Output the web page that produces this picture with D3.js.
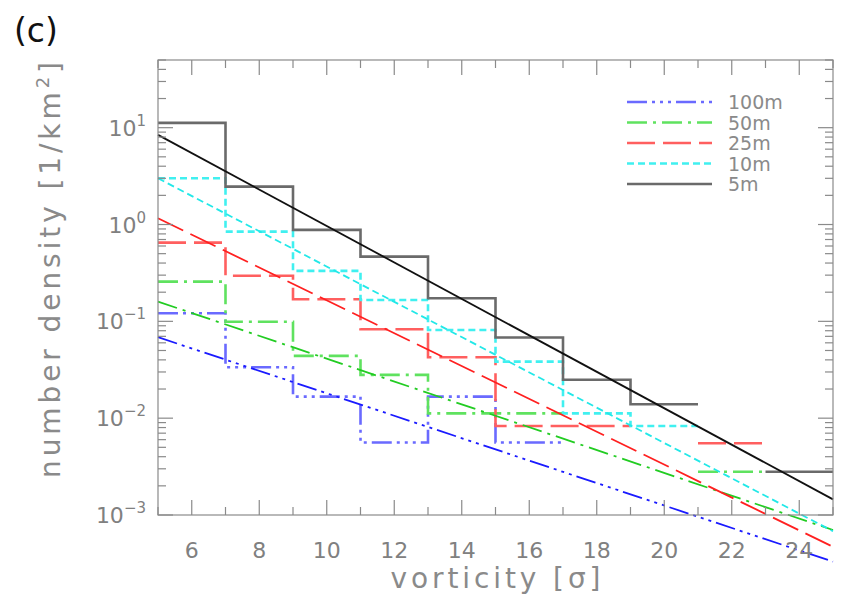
<!DOCTYPE html>
<html>
<head>
<meta charset="utf-8">
<script src="https://cdn.jsdelivr.net/npm/d3@7"></script>
<style>
  body { margin: 0; background: #fff; }
  text { font-family: "DejaVu Sans", sans-serif; }
</style>
</head>
<body>
<div id="chart"></div>
<script>
const width = 850;
const height = 602;
const margin = { top: 60, right: 17, bottom: 87, left: 158 };

// bins of 2 sigma, starting edges
const binStart = [5, 7, 9, 11, 13, 15, 17, 19, 21, 23];
const binWidth = 2;

const seriesNames = ["100m", "50m", "25m", "10m", "5m"];
const hist100m = [0.121, 0.0336, 0.0167, 0.0056, 0.0167, 0.0056, null, null, null, null];
const hist50m  = [0.257, 0.099, 0.044, 0.028, 0.0112, 0.0112, null, null, 0.0028, null];
const hist25m  = [0.65, 0.296, 0.169, 0.083, 0.0426, 0.0083, 0.0083, null, 0.0055, null];
const hist10m  = [3.0, 0.845, 0.332, 0.166, 0.0815, 0.0384, 0.0112, 0.0083, null, null];
const hist5m   = [11.2, 2.46, 0.88, 0.466, 0.173, 0.068, 0.0249, 0.0139, null, 0.0028];

// fitted exponential lines, values at x = 5 and x = 25
const fitX = [5, 25];
const fit100m = [0.0686, 0.00033];
const fit50m  = [0.16, 0.0007];
const fit25m  = [1.16, 0.00047];
const fit10m  = [3.0, 0.00068];
const fit5m   = [8.43, 0.00145];

const xTicks = [6, 8, 10, 12, 14, 16, 18, 20, 22, 24];
const xMinor = [5, 7, 9, 11, 13, 15, 17, 19, 21, 23, 25];
const yDecades = [-3, -2, -1, 0, 1];

const hists = [hist100m, hist50m, hist25m, hist10m, hist5m];
const fits = [fit100m, fit50m, fit25m, fit10m, fit5m];
const histColor = ["#6a6aff", "#5fe25f", "#ff5f5f", "#40f0f0", "#6a6a6a"];
const fitColor = ["#1a1aff", "#22cc22", "#ff2020", "#22e8e8", "#111"];
const dashes = ["20,5,3,5,3,5,3,5", "20,6,3,6", "28,8", "7,4", null];

const svg = d3.select("#chart")
  .append("svg")
  .attr("width", width)
  .attr("height", height);

const x = d3.scaleLinear().domain([5, 25]).range([margin.left, width - margin.right]);
const y = d3.scaleLog().domain([1e-3, 50]).range([height - margin.bottom, margin.top]);

const x0 = x.range()[0], x1 = x.range()[1];
const y0 = y.range()[0], y1 = y.range()[1];
const axisGray = "#8a8a8a";

// histograms
const line = d3.line()
  .defined(d => d.v != null)
  .x(d => x(d.x))
  .y(d => y(d.v));

hists.forEach((h, k) => {
  const pts = [];
  h.forEach((v, i) => {
    pts.push({ x: binStart[i], v: v });
    pts.push({ x: binStart[i] + binWidth, v: v });
  });
  svg.append("path")
    .attr("d", line(pts))
    .attr("fill", "none")
    .attr("stroke", histColor[k])
    .attr("stroke-width", 2.6)
    .attr("stroke-dasharray", dashes[k]);
});

// fitted lines (not clipped, like the original)
fits.forEach((f, k) => {
  svg.append("path")
    .attr("d", line(fitX.map((xv, i) => ({ x: xv, v: f[i] }))))
    .attr("fill", "none")
    .attr("stroke", fitColor[k])
    .attr("stroke-width", 1.8)
    .attr("stroke-dasharray", dashes[k]);
});

// frame
svg.append("rect")
  .attr("x", x0).attr("y", y1)
  .attr("width", x1 - x0).attr("height", y0 - y1)
  .attr("fill", "none")
  .attr("stroke", axisGray)
  .attr("stroke-width", 1.2);

const ticks = svg.append("g").attr("stroke", axisGray).attr("stroke-width", 1.2);

// x ticks, top and bottom
xMinor.concat(xTicks).forEach(t => {
  const len = xTicks.includes(t) ? 15 : 8;
  ticks.append("line").attr("x1", x(t)).attr("x2", x(t)).attr("y1", y0).attr("y2", y0 - len);
  ticks.append("line").attr("x1", x(t)).attr("x2", x(t)).attr("y1", y1).attr("y2", y1 + len);
});

// y ticks, left and right
yDecades.forEach(e => {
  for (let m = 1; m <= 9; m++) {
    const v = m * Math.pow(10, e);
    if (v < 1e-3 || v > 50) continue;
    const len = m === 1 ? 15 : 8;
    ticks.append("line").attr("x1", x0).attr("x2", x0 + len).attr("y1", y(v)).attr("y2", y(v));
    ticks.append("line").attr("x1", x1).attr("x2", x1 - len).attr("y1", y(v)).attr("y2", y(v));
  }
});

// x tick labels
svg.append("g").selectAll("text")
  .data(xTicks)
  .enter().append("text")
  .attr("x", d => x(d))
  .attr("y", 558)
  .attr("text-anchor", "middle")
  .attr("font-size", 22)
  .attr("fill", "#808080")
  .text(d => d);

// y tick labels with superscripts
const yl = svg.append("g").selectAll("text")
  .data(yDecades)
  .enter().append("text")
  .attr("x", 146)
  .attr("y", d => y(Math.pow(10, d)) + 8)
  .attr("text-anchor", "end")
  .attr("font-size", 22)
  .attr("fill", "#808080");
yl.append("tspan").text("10");
yl.append("tspan")
  .attr("font-size", 15)
  .attr("dy", -10)
  .text(d => d < 0 ? "\u2212" + (-d) : d);

// axis titles
svg.append("text")
  .attr("x", x(15))
  .attr("y", 588)
  .attr("text-anchor", "middle")
  .attr("font-size", 28)
  .attr("fill", "#8a8a8a")
  .attr("textLength", 210)
  .text("vorticity [\u03c3]");

const yt = svg.append("text")
  .attr("transform", "translate(60,270) rotate(-90)")
  .attr("text-anchor", "middle")
  .attr("font-size", 28)
  .attr("fill", "#8a8a8a")
  .attr("textLength", 416);
yt.append("tspan").text("number density [1/km");
yt.append("tspan").attr("font-size", 18).attr("dy", -11).text("2");
yt.append("tspan").attr("dy", 11).text("]");

// panel letter
svg.append("text")
  .attr("x", 14)
  .attr("y", 42)
  .attr("font-size", 33)
  .attr("fill", "#111")
  .text("(c)");

// legend
const legend = svg.append("g");
seriesNames.forEach((name, k) => {
  const ly = 102 + k * 20.5;
  legend.append("line")
    .attr("x1", 627).attr("x2", 712)
    .attr("y1", ly).attr("y2", ly)
    .attr("stroke", histColor[k])
    .attr("stroke-width", 2.6)
    .attr("stroke-dasharray", dashes[k]);
  legend.append("text")
    .attr("x", 728)
    .attr("y", ly + 7)
    .attr("font-size", 19)
    .attr("fill", "#8a8a8a")
    .text(name);
});
</script>
</body>
</html>
